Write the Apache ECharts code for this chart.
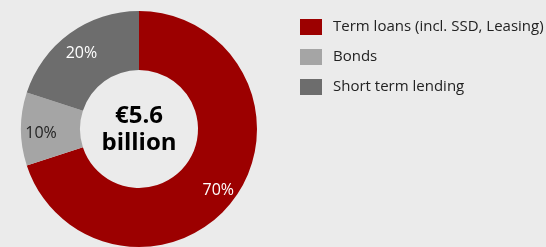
<!DOCTYPE html>
<html><head><meta charset="utf-8">
<script src="https://cdn.jsdelivr.net/npm/echarts@6/dist/echarts.min.js"></script>
<style>html,body{margin:0;padding:0;background:#ebebeb}#c{width:546px;height:247px}</style>
</head><body><div id="c"></div>
<script>
const categories = ['Term loans (incl. SSD, Leasing)', 'Bonds', 'Short term lending'];
const shares = [70, 10, 20];
const colors = ['#9c0000', '#a5a5a5', '#6d6d6d'];
const labelColors = ['#ffffff', '#222222', '#ffffff'];
const centerText = ['€5.6', 'billion'];

const font = '"Open Sans", "Noto Sans", sans-serif';
const chart = echarts.init(document.getElementById('c'), null, {renderer: 'canvas'});
const data = categories.map((n, i) => ({name: n, value: shares[i], itemStyle: {color: colors[i]}}));
chart.setOption({
  backgroundColor: '#ebebeb',
  animation: false,
  legend: {
    orient: 'vertical', left: 300, top: 19, padding: 0,
    itemWidth: 22, itemHeight: 16, itemGap: 14,
    icon: 'rect',
    data: categories,
    textStyle: {fontFamily: font, fontSize: 15, color: '#222', padding: [0, 0, 0, 6]}
  },
  graphic: [{
    type: 'text', x: 139, y: 130,
    style: {
      text: centerText.join('\n'), fontFamily: font, fontWeight: 'bold', fontSize: 24,
      lineHeight: 27, fill: '#000', align: 'center', verticalAlign: 'middle'
    }
  }],
  series: [{
    type: 'pie', center: [139, 129], radius: [59, 118], startAngle: 90, clockwise: true,
    silent: true, label: {show: false}, labelLine: {show: false},
    data: data
  }, {
    type: 'pie', center: [139, 129], radius: [72, 118], startAngle: 90, clockwise: true,
    silent: true, labelLine: {show: false},
    itemStyle: {color: 'rgba(0,0,0,0)'},
    label: {show: true, position: 'inside', fontFamily: font, fontSize: 16,
      offset: [0, 4], formatter: p => p.value + '%'},
    data: categories.map((n, i) => ({name: n, value: shares[i],
      itemStyle: {color: 'rgba(0,0,0,0)'}, label: {color: labelColors[i]}}))
  }]
});
</script></body></html>
